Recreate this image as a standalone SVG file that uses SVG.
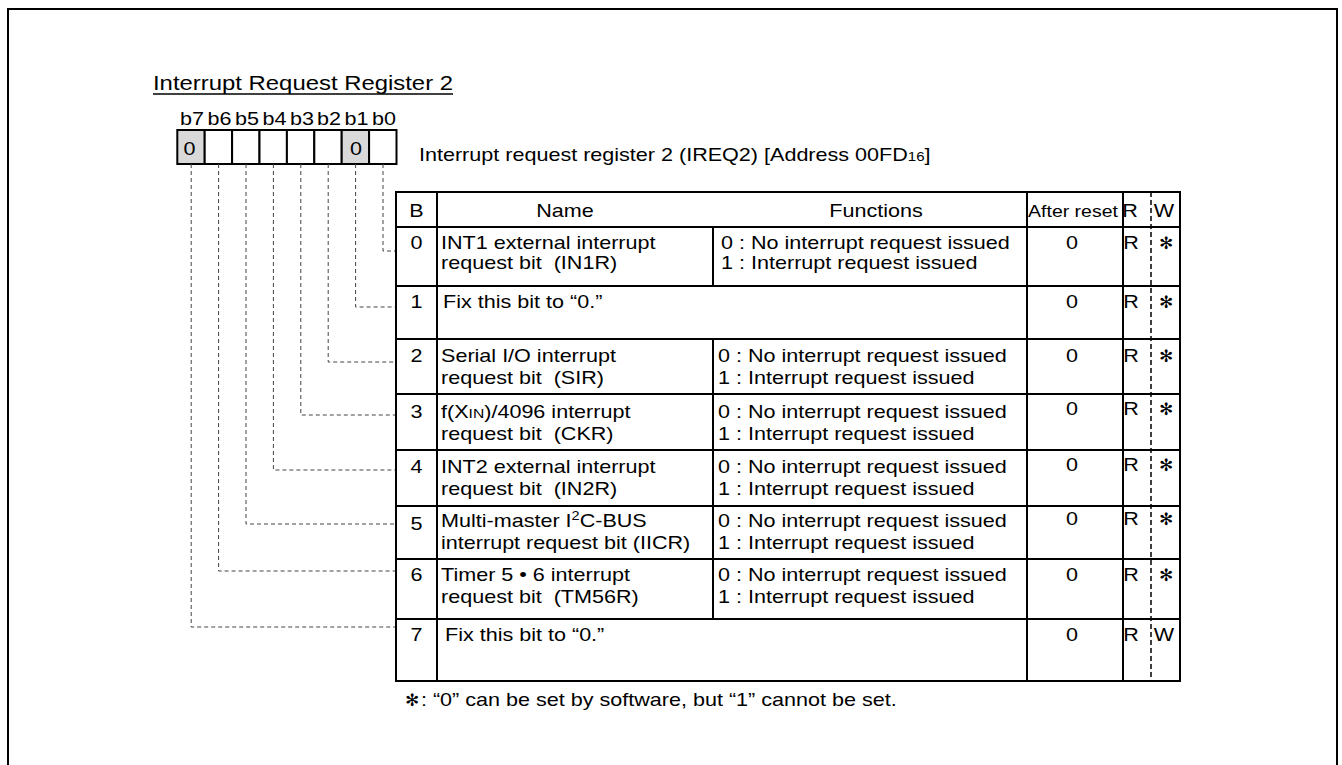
<svg xmlns="http://www.w3.org/2000/svg" width="1342" height="765" viewBox="0 0 1342 765">
<style>
text{font-family:"Liberation Sans",Arial,sans-serif;font-size:18.6px;fill:#000;white-space:pre}
.t{font-size:20.6px}
.sm{font-size:16.8px}
.c{text-anchor:middle}
.ast{font-family:"DejaVu Sans",sans-serif;font-size:17px;text-anchor:middle}
.ln{stroke:#000;stroke-width:2;fill:none}
.box{stroke:#000;stroke-width:2;fill:#fff}
.gbox{stroke:#000;stroke-width:2;fill:#d9d9d9}
.dash{stroke:#444;stroke-width:1;fill:none;stroke-dasharray:4 3}
.rw{stroke:#000;stroke-width:1.5;fill:none;stroke-dasharray:5 3}
</style>
<rect width="1342" height="765" fill="#fff"/>
<path class="ln" d="M8,770 V9 H1337 V770"/>
<g id="title">
<g transform="scale(1.16 1)"><text class="t" x="131.9" y="90">Interrupt Request Register 2</text></g>
<line x1="153" y1="94" x2="453" y2="94" stroke="#000" stroke-width="1.3"/>
</g>
<g id="register">
<rect class="gbox" x="177.3" y="130" width="27.4" height="34"/>
<rect class="box" x="204.7" y="130" width="27.4" height="34"/>
<rect class="box" x="232.1" y="130" width="27.4" height="34"/>
<rect class="box" x="259.5" y="130" width="27.4" height="34"/>
<rect class="box" x="286.9" y="130" width="27.4" height="34"/>
<rect class="box" x="314.3" y="130" width="27.4" height="34"/>
<rect class="gbox" x="341.7" y="130" width="27.4" height="34"/>
<rect class="box" x="369.1" y="130" width="27.4" height="34"/>
<g transform="scale(1.16 1)">
<text class="c" x="165.5" y="125">b7</text>
<text class="c" x="189.3" y="125">b6</text>
<text class="c" x="212.9" y="125">b5</text>
<text class="c" x="236.6" y="125">b4</text>
<text class="c" x="260.3" y="125">b3</text>
<text class="c" x="283.6" y="125">b2</text>
<text class="c" x="307.4" y="125">b1</text>
<text class="c" x="331" y="125">b0</text>
<text class="c" x="163.4" y="155">0</text>
<text class="c" x="306.9" y="155">0</text>
<text x="361.2" y="161">Interrupt request register 2 (IREQ2) [Address 00FD<tspan font-size="13">16</tspan>]</text>
</g>
</g>
<g id="connectors">
<path class="dash" d="M383,164 V251 H396"/>
<path class="dash" d="M355.6,164 V307 H396"/>
<path class="dash" d="M328.2,164 V362 H396"/>
<path class="dash" d="M300.8,164 V415 H396"/>
<path class="dash" d="M273.4,164 V470 H396"/>
<path class="dash" d="M246,164 V524 H396"/>
<path class="dash" d="M218.6,164 V571 H396"/>
<path class="dash" d="M191.2,164 V627 H396"/>
</g>
<g id="table">
<rect class="ln" x="396" y="192" width="784" height="489"/>
<path class="ln" d="M396,227 H1180 M396,286 H1180 M396,339 H1180 M396,394 H1180 M396,450 H1180 M396,506 H1180 M396,559 H1180 M396,619 H1180"/>
<path class="ln" d="M437,192 V681 M1027,192 V681 M1123,192 V681 M713,227 V286 M713,339 V619"/>
<line class="rw" x1="1151" y1="192" x2="1151" y2="681"/>
</g>
<g id="header">
<g transform="scale(1.16 1)">
<text class="c" x="359.1" y="217">B</text>
<text class="c" x="487.1" y="217">Name</text>
<text class="c" x="755.2" y="217">Functions</text>
<text class="c sm" x="925" y="217">After reset</text>
<text class="c" x="974.1" y="217">R</text>
<text class="c" x="1003.4" y="217">W</text>
</g>
</g>
<g id="row0">
<g transform="scale(1.16 1)">
<text class="c" x="359.1" y="249">0</text>
<text x="380.2" y="249">INT1 external interrupt</text>
<text x="380.2" y="269">request bit  (IN1R)</text>
<text x="621.6" y="249">0 : No interrupt request issued</text>
<text x="621.6" y="269">1 : Interrupt request issued</text>
<text class="c" x="924.1" y="249">0</text>
<text class="c" x="975" y="249">R</text>
</g>
<text class="ast" x="1166" y="249">✻</text>
</g>
<g id="row1">
<g transform="scale(1.16 1)">
<text class="c" x="359.1" y="308">1</text>
<text x="381.9" y="308">Fix this bit to “0.”</text>
<text class="c" x="924.1" y="308">0</text>
<text class="c" x="975" y="308">R</text>
</g>
<text class="ast" x="1166" y="308">✻</text>
</g>
<g id="row2">
<g transform="scale(1.16 1)">
<text class="c" x="359.1" y="362">2</text>
<text x="380.2" y="362">Serial I/O interrupt</text>
<text x="380.2" y="384">request bit  (SIR)</text>
<text x="619" y="362">0 : No interrupt request issued</text>
<text x="619" y="384">1 : Interrupt request issued</text>
<text class="c" x="924.1" y="362">0</text>
<text class="c" x="975" y="362">R</text>
</g>
<text class="ast" x="1166" y="362">✻</text>
</g>
<g id="row3">
<g transform="scale(1.16 1)">
<text class="c" x="359.1" y="418">3</text>
<text x="380.2" y="418">f(X<tspan font-size="13.5">IN</tspan>)/4096 interrupt</text>
<text x="380.2" y="440">request bit  (CKR)</text>
<text x="619" y="418">0 : No interrupt request issued</text>
<text x="619" y="440">1 : Interrupt request issued</text>
<text class="c" x="924.1" y="415">0</text>
<text class="c" x="975" y="415">R</text>
</g>
<text class="ast" x="1166" y="415">✻</text>
</g>
<g id="row4">
<g transform="scale(1.16 1)">
<text class="c" x="359.1" y="473">4</text>
<text x="380.2" y="473">INT2 external interrupt</text>
<text x="380.2" y="495">request bit  (IN2R)</text>
<text x="619" y="473">0 : No interrupt request issued</text>
<text x="619" y="495">1 : Interrupt request issued</text>
<text class="c" x="924.1" y="471">0</text>
<text class="c" x="975" y="471">R</text>
</g>
<text class="ast" x="1166" y="471">✻</text>
</g>
<g id="row5">
<g transform="scale(1.16 1)">
<text class="c" x="359.1" y="530">5</text>
<text x="380.2" y="527">Multi-master I<tspan font-size="12.5" dy="-7">2</tspan><tspan dy="7">C-BUS</tspan></text>
<text x="380.2" y="549">interrupt request bit (IICR)</text>
<text x="619" y="527">0 : No interrupt request issued</text>
<text x="619" y="549">1 : Interrupt request issued</text>
<text class="c" x="924.1" y="525">0</text>
<text class="c" x="975" y="525">R</text>
</g>
<text class="ast" x="1166" y="525">✻</text>
</g>
<g id="row6">
<g transform="scale(1.16 1)">
<text class="c" x="359.1" y="581">6</text>
<text x="380.2" y="581">Timer 5 • 6 interrupt</text>
<text x="380.2" y="603">request bit  (TM56R)</text>
<text x="619" y="581">0 : No interrupt request issued</text>
<text x="619" y="603">1 : Interrupt request issued</text>
<text class="c" x="924.1" y="581">0</text>
<text class="c" x="975" y="581">R</text>
</g>
<text class="ast" x="1166" y="581">✻</text>
</g>
<g id="row7">
<g transform="scale(1.16 1)">
<text class="c" x="359.1" y="641">7</text>
<text x="383.6" y="641">Fix this bit to “0.”</text>
<text class="c" x="924.1" y="641">0</text>
<text class="c" x="975" y="641">R</text>
<text class="c" x="1003.4" y="641">W</text>
</g>
</g>
<g id="footnote">
<text class="ast" x="412" y="706">✻</text>
<g transform="scale(1.16 1)">
<text x="362.9" y="706">: “0” can be set by software, but “1” cannot be set.</text>
</g>
</g>
</svg>
